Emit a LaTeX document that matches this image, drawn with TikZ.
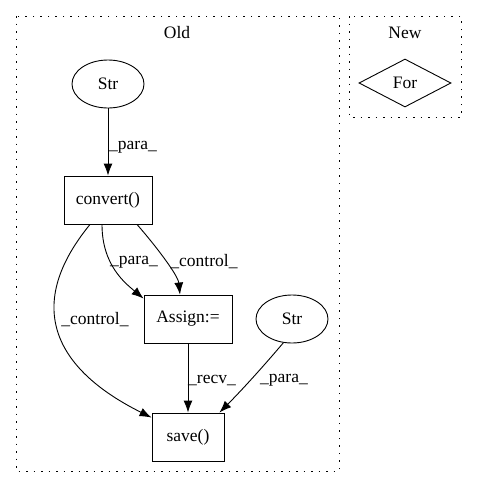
\documentclass[tikz,border=0pt]{standalone}
\usepackage{fontspec}
\setmainfont{Liberation Serif}
\usetikzlibrary{shapes.geometric,arrows.meta}

\begin{document}
\begin{tikzpicture}[x=1pt, y=-1pt, font=\fontsize{17.5}{20}\selectfont,
  strnode/.style={draw, ellipse, minimum width=72pt, minimum height=48pt, inner sep=0pt, line width=0.9pt},
  callbox/.style={draw, rectangle, minimum height=48pt, inner sep=0pt, line width=0.9pt},
  fornode/.style={draw, diamond, aspect=1.9, minimum width=92pt, minimum height=48pt, inner sep=0pt, line width=0.9pt},
  cluster/.style={draw, line width=0.9pt, dash pattern=on 1.5pt off 6pt},
  lbl/.style={inner sep=0pt},
  edge/.style={-{Latex[length=12pt, width=9pt]}, line width=0.9pt}]
\useasboundingbox (0,0) rectangle (477,488);
\draw[cluster] (16,16) rectangle (339,471);
\draw[cluster] (349,16) rectangle (461,117);
\node[lbl] (old) at (177,33) {Old};
\node[lbl] (new) at (405,33) {New};
\node[strnode] (str1) at (108,84) {Str};
\node[callbox, minimum width=88pt] (conv) at (108,200) {convert()};
\node[callbox, minimum width=88pt] (assign) at (188,319) {Assign:=};
\node[strnode] (str2) at (292,319) {Str};
\node[callbox, minimum width=72pt] (save) at (188,437) {save()};
\node[fornode] (for) at (405,83) {For};
\draw[edge] (str1) -- (conv);
\draw[edge] ([xshift=-6pt]conv.south) .. controls (102,265) and (125,283) .. ([yshift=-4pt]assign.north west);
\draw[edge] ([xshift=29pt]conv.south) .. controls (155,245) and (178,275) .. ([xshift=-8pt]assign.north);
\draw[edge] ([xshift=-18pt]conv.south) .. controls (20,310) and (60,372) .. ([yshift=-5pt]save.north west);
\draw[edge] (assign) -- (save);
\draw[edge] (str2.250) .. controls (262,368) and (240,392) .. ([xshift=-5pt]save.north east);
\node[lbl] (lpara1) at (133,147) {\_para\_};
\node[lbl] (lpara2) at (134,262) {\_para\_};
\node[lbl] (lctrl1) at (204,262) {\_control\_};
\node[lbl] (lctrl2) at (95,320) {\_control\_};
\node[lbl] (lrecv) at (212,380) {\_recv\_};
\node[lbl] (lpara3) at (284,380) {\_para\_};
\end{tikzpicture}
\end{document}
